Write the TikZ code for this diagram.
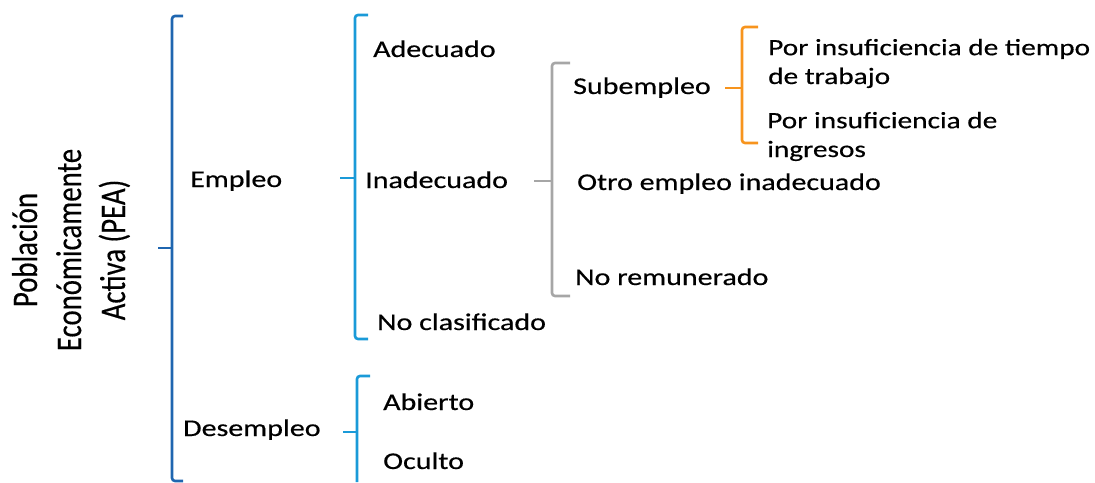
\documentclass[tikz,border=0pt]{standalone}
\usepackage{fontspec}
\setmainfont{Carlito}[FakeBold=0.4]
\definecolor{peablue}{HTML}{1F66B0}
\definecolor{lightblue}{HTML}{1A9AD8}
\definecolor{inadgray}{HTML}{A6A6A6}
\definecolor{suborange}{HTML}{F7941D}
\begin{document}
\begin{tikzpicture}[
  x=1pt, y=-1.25pt, yscale=0.8,
  every node/.style={transform shape},
  lbl/.style={anchor=base west, inner sep=0pt, align=left, font=\fontsize{30}{36}\selectfont},
  brace/.style={line width=2.6pt, rounded corners=3pt}
]
\useasboundingbox (0,0) rectangle (1095,482);
% root
\node[rotate=90, align=center, inner sep=0pt, font=\fontsize{36}{44}\selectfont] (pea) at (71,250)
  {Población\\Económicamente\\Activa (PEA)};
% first level
\node[lbl] (empleo) at (190,187) {Empleo};
\node[lbl] (desempleo) at (183,436) {Desempleo};
% empleo
\node[lbl] (adecuado) at (373,57) {Adecuado};
\node[lbl] (inadecuado) at (365,188) {Inadecuado};
\node[lbl] (noclasif) at (377,330) {No clasificado};
% desempleo
\node[lbl] (abierto) at (383,410) {Abierto};
\node[lbl] (oculto) at (383,469) {Oculto};
% inadecuado
\node[lbl] (subempleo) at (573,94) {Subempleo};
\node[lbl] (otro) at (577,190) {Otro empleo inadecuado};
\node[lbl] (noremun) at (575,285) {No remunerado};
% subempleo (base = last line)
\node[lbl, font=\fontsize{29.3}{36}\selectfont] (tiempo) at (768,84) {Por insuficiencia de tiempo\\de trabajo};
\node[lbl, font=\fontsize{29.3}{36}\selectfont] (ingresos) at (767,157) {Por insuficiencia de\\ingresos};

% brackets
\draw[brace, peablue] (183,16) -- (172,16) -- (172,481) -- (183,481);
\draw[brace, peablue] (158,248) -- (172,248);
\draw[brace, lightblue] (368,15) -- (355,15) -- (355,339) -- (368,339);
\draw[brace, lightblue] (340,178) -- (355,178);
\draw[brace, lightblue] (370,376) -- (357,376) -- (357,482);
\draw[brace, lightblue] (343,432) -- (357,432);
\draw[brace, inadgray] (570,63) -- (552,63) -- (552,296) -- (570,296);
\draw[brace, inadgray] (534,181) -- (552,181);
\draw[brace, suborange] (758,27) -- (742,27) -- (742,143) -- (758,143);
\draw[brace, suborange] (725,88) -- (742,88);
\end{tikzpicture}
\end{document}
